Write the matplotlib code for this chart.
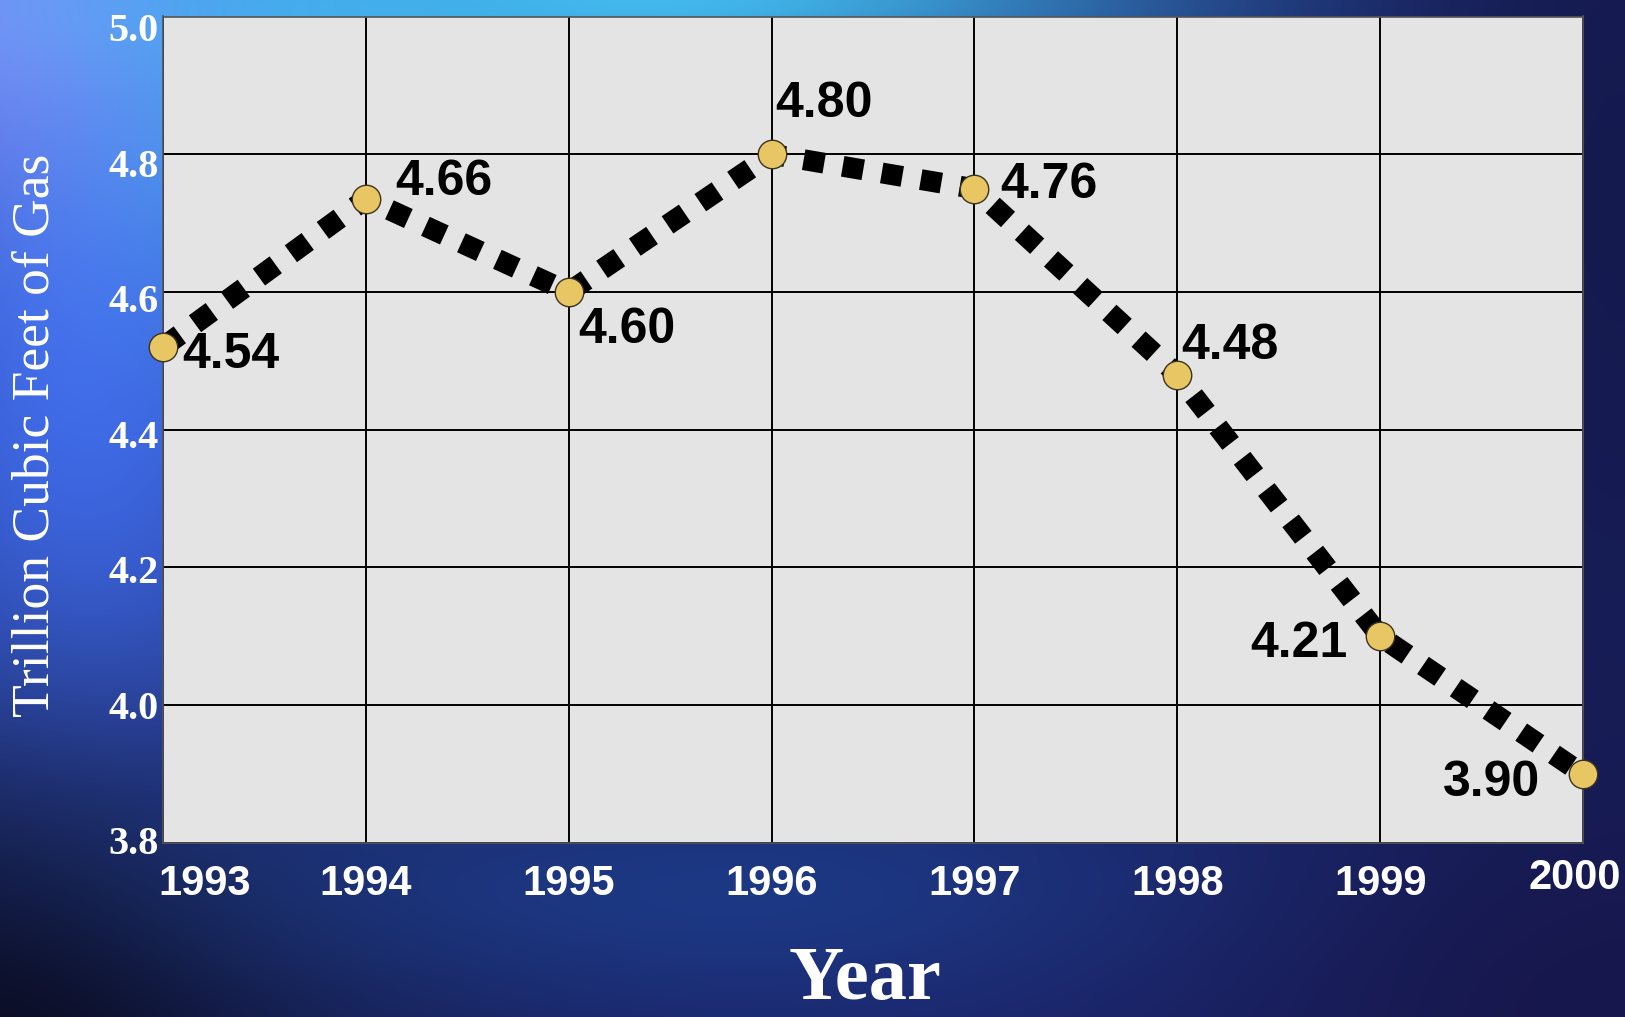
import numpy as np
import matplotlib
matplotlib.use("Agg")
import matplotlib.pyplot as plt
import matplotlib.transforms as mtransforms

# data
years = [1993, 1994, 1995, 1996, 1997, 1998, 1999, 2000]
gas = [4.52, 4.735, 4.60, 4.80, 4.75, 4.48, 4.10, 3.90]
value_labels = ["4.54", "4.66", "4.60", "4.80", "4.76", "4.48", "4.21", "3.90"]
y_ticks = [3.8, 4.0, 4.2, 4.4, 4.6, 4.8, 5.0]

# label offsets in pixels (dx, dy) from each point
label_offsets = [(68, -8), (78, 17), (58, -38), (52, 50), (74, 4), (53, 29), (-81, -8), (-92, -9)]

W, H = 1625, 1017
fig = plt.figure(figsize=(W / 100, H / 100), dpi=100)

# background: blue cloudy gradient
bg = fig.add_axes([0, 0, 1, 1], zorder=-10)
yy, xx = np.mgrid[0:1:H * 1j, 0:1:W * 1j]
img = np.zeros((H, W, 3))
img[:] = np.array([28, 38, 110]) / 255


def blob(img, cx, cy, sx, sy, col, strength=1.0):
    w = strength * np.exp(-((xx - cx) ** 2 / (2 * sx ** 2) + (yy - cy) ** 2 / (2 * sy ** 2)))
    w = w[..., None]
    return img * (1 - w) + np.array(col) / 255 * w


img = blob(img, 0.05, 0.35, 0.12, 0.45, (65, 110, 240), 0.95)
img = blob(img, 0.0, 0.0, 0.12, 0.15, (130, 140, 250), 0.9)
img = blob(img, 0.4, 0.0, 0.22, 0.05, (70, 200, 250), 0.9)
img = blob(img, 0.2, 0.1, 0.1, 0.15, (70, 190, 250), 0.7)
img = blob(img, 1.0, 0.2, 0.12, 0.5, (20, 25, 75), 0.9)
img = blob(img, 0.0, 1.0, 0.18, 0.2, (10, 10, 30), 0.95)
img = blob(img, 0.45, 0.88, 0.25, 0.08, (30, 70, 150), 0.6)
img = blob(img, 1.0, 1.0, 0.2, 0.2, (22, 20, 70), 0.8)
bg.imshow(np.clip(img, 0, 1), aspect="auto", extent=[0, 1, 0, 1], origin="upper")
bg.axis("off")

ax = fig.add_axes([163 / W, 1 - 843 / H, 1420 / W, 826.5 / H])
ax.set_facecolor("#e4e4e4")
ax.set_xlim(years[0], years[-1])
ax.set_ylim(3.8, 5.0)

ax.grid(True, color="black", linewidth=1.4)
ax.set_axisbelow(True)
for s in ax.spines.values():
    s.set_color("#555555")
    s.set_linewidth(1.2)

ax.plot(years, gas, color="black", linewidth=15, dashes=(1.0, 0.9),
        dash_capstyle="butt", clip_on=False, zorder=3)
ax.plot(years, gas, linestyle="none", marker="o", markersize=20.5,
        markerfacecolor="#e8c664", markeredgecolor="#3a3320", markeredgewidth=1.0,
        clip_on=False, zorder=4)

for x, y, lab, (dx, dy) in zip(years, gas, value_labels, label_offsets):
    ax.annotate(lab, (x, y), xytext=(dx, dy), textcoords="offset pixels",
                ha="center", va="center", fontsize=36, fontweight="bold",
                family="Liberation Sans", color="black", zorder=5)

ax.set_xticks(years)
ax.set_xticklabels([str(y) for y in years], fontsize=30, fontweight="bold",
                   family="Liberation Sans", color="white")
ax.set_yticks(y_ticks)
ax.set_yticklabels([f"{v:.1f}" for v in y_ticks], fontsize=29, fontweight="bold",
                   family="Liberation Serif", color="white")
ax.tick_params(axis="both", length=0)
ax.tick_params(axis="x", pad=15)
ax.tick_params(axis="y", pad=3)

xl = ax.get_xticklabels()
xl[0].set_horizontalalignment("left")
xl[0].set_transform(xl[0].get_transform() + mtransforms.ScaledTranslation(-5 / 100, 0, fig.dpi_scale_trans))
xl[-1].set_transform(xl[-1].get_transform() + mtransforms.ScaledTranslation(-8 / 100, 6 / 100, fig.dpi_scale_trans))
# tick labels sit a little below their gridlines at the top, a little above at the bottom
for i, lab in enumerate(ax.get_yticklabels()):
    shift = 3 - 14 * i / (len(y_ticks) - 1)
    lab.set_transform(lab.get_transform() + mtransforms.ScaledTranslation(0, shift / 100, fig.dpi_scale_trans))

fig.text(36 / W, 1 - 435 / H, "Trillion Cubic Feet of Gas", rotation=90,
         ha="center", va="center", fontsize=38.5, family="Liberation Serif", color="white")
fig.text(865 / W, 1 - 999 / H, "Year", ha="center", va="baseline",
         fontsize=55, fontweight="bold", family="Liberation Serif", color="white")

fig.savefig("out.png", dpi=100)
